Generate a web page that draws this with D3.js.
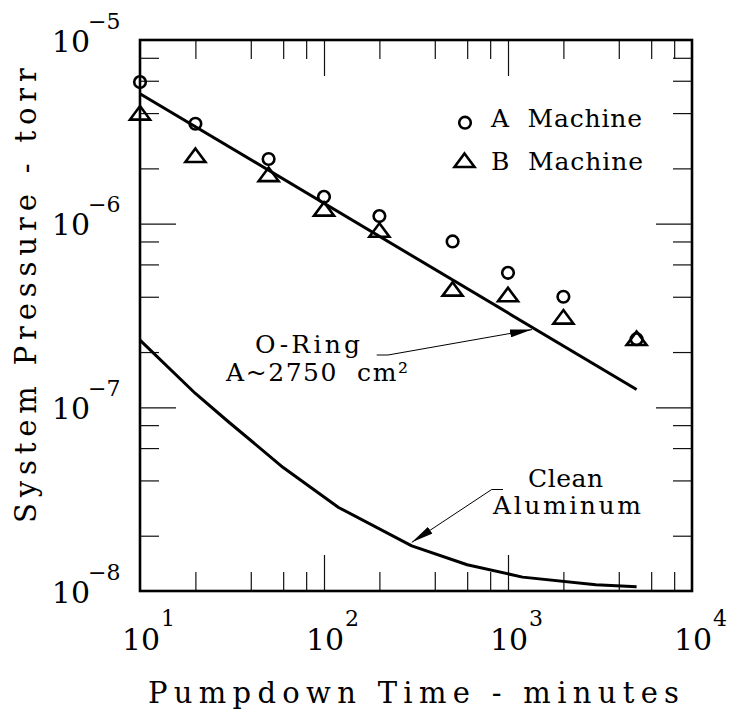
<!DOCTYPE html>
<html>
<head>
<meta charset="utf-8">
<script src="https://cdn.jsdelivr.net/npm/d3@7"></script>
<style>
  body { margin: 0; background: #fff; }
  text { font-family: "DejaVu Serif", serif; fill: #000; }
</style>
</head>
<body>
<div id="chart"></div>
<script>
// pumpdown times (minutes)
var timeA = [10, 20, 50, 100, 200, 500, 1000, 2000, 5000];
var pressureA = [5.9e-6, 3.5e-6, 2.25e-6, 1.4e-6, 1.1e-6, 8.0e-7, 5.4e-7, 4.0e-7, 2.35e-7];
var timeB = [10, 20, 50, 100, 200, 500, 1000, 2000, 5000];
var pressureB = [4.0e-6, 2.35e-6, 1.85e-6, 1.2e-6, 9.2e-7, 4.4e-7, 4.1e-7, 3.1e-7, 2.37e-7];

var timeOring = [10, 5000];
var pressureOring = [5.1e-6, 1.25e-7];
var timeClean = [10, 20, 30, 60, 120, 300, 600, 1200, 3000, 5000];
var pressureClean = [2.32e-7, 1.19e-7, 8.4e-8, 4.7e-8, 2.85e-8, 1.76e-8, 1.39e-8, 1.19e-8, 1.08e-8, 1.055e-8];

var xDecades = [10, 100, 1000, 10000];
var xExponents = ["1", "2", "3", "4"];
var yDecades = [1e-5, 1e-6, 1e-7, 1e-8];
var yExponents = ["\u22125", "\u22126", "\u22127", "\u22128"];
var minorSteps = [2, 4, 6, 8];

var margin = {top: 40, right: 39, bottom: 120, left: 140};
var width = 731 - margin.left - margin.right;
var height = 711 - margin.top - margin.bottom;

var root = d3.select("#chart")
    .append("svg")
    .attr("width", 731)
    .attr("height", 711);

var svg = root.append("g")
    .attr("transform", "translate(" + margin.left + "," + margin.top + ")");

var x = d3.scaleLog().domain([10, 1e4]).range([0, width]);
var y = d3.scaleLog().domain([1e-8, 1e-5]).range([height, 0]);

// minor ticks at 2,4,6,8 of each decade
var xMinor = [];
xDecades.slice(0, 3).forEach(function(d) { minorSteps.forEach(function(m) { xMinor.push(d * m); }); });
var yMinor = [];
yDecades.slice(1).forEach(function(d) { minorSteps.forEach(function(m) { yMinor.push(d * m); }); });
var xMajor = xDecades.slice(1, 3);
var yMajor = yDecades.slice(1, 3);

function clean(g) {
    g.select(".domain").remove();
    g.selectAll(".tick line").attr("stroke", "#111").attr("stroke-width", 1.2);
}

svg.append("g").attr("transform", "translate(0," + height + ")")
    .call(d3.axisBottom(x).tickValues(xMinor).tickSize(-19).tickFormat("")).call(clean);
svg.append("g").attr("transform", "translate(0," + height + ")")
    .call(d3.axisBottom(x).tickValues(xMajor).tickSize(-36).tickFormat("")).call(clean);
svg.append("g")
    .call(d3.axisTop(x).tickValues(xMinor).tickSize(-19).tickFormat("")).call(clean);
svg.append("g")
    .call(d3.axisTop(x).tickValues(xMajor).tickSize(-36).tickFormat("")).call(clean);
svg.append("g")
    .call(d3.axisLeft(y).tickValues(yMinor).tickSize(-19).tickFormat("")).call(clean);
svg.append("g")
    .call(d3.axisLeft(y).tickValues(yMajor).tickSize(-36).tickFormat("")).call(clean);
svg.append("g").attr("transform", "translate(" + width + ",0)")
    .call(d3.axisRight(y).tickValues(yMinor).tickSize(-19).tickFormat("")).call(clean);
svg.append("g").attr("transform", "translate(" + width + ",0)")
    .call(d3.axisRight(y).tickValues(yMajor).tickSize(-36).tickFormat("")).call(clean);

svg.append("rect")
    .attr("width", width)
    .attr("height", height)
    .attr("fill", "none")
    .attr("stroke", "#000")
    .attr("stroke-width", 2.6);

// tick labels 10^n
xDecades.forEach(function(d, i) {
    svg.append("text").attr("x", x(d) + 1).attr("y", height + 59)
        .attr("text-anchor", "middle").attr("font-size", 30).text("10");
    svg.append("text").attr("x", x(d) + 21).attr("y", height + 35)
        .attr("font-size", 22).text(xExponents[i]);
});
yDecades.forEach(function(d, i) {
    svg.append("text").attr("x", -50).attr("y", y(d) + 11.5)
        .attr("text-anchor", "end").attr("font-size", 30).text("10");
    svg.append("text").attr("x", -52).attr("y", y(d) - 11.5)
        .attr("font-size", 22).text(yExponents[i]);
});

// axis titles
root.append("text")
    .attr("x", 148).attr("y", 703)
    .attr("font-size", 29)
    .attr("textLength", 531).attr("lengthAdjust", "spacing")
    .text("Pumpdown Time - minutes");
root.append("text")
    .attr("transform", "translate(36,523) rotate(-90)")
    .attr("font-size", 29)
    .attr("textLength", 455).attr("lengthAdjust", "spacing")
    .text("System Pressure - torr");

// curves
var line = d3.line()
    .x(function(d) { return x(d[0]); })
    .y(function(d) { return y(d[1]); });

svg.append("path")
    .datum(d3.zip(timeOring, pressureOring))
    .attr("d", line)
    .attr("fill", "none").attr("stroke", "#000").attr("stroke-width", 3);
svg.append("path")
    .datum(d3.zip(timeClean, pressureClean))
    .attr("d", line)
    .attr("fill", "none").attr("stroke", "#000").attr("stroke-width", 3)
    .attr("stroke-linejoin", "round");

// points
var triangle = "M0,-7L10,6.5L-10,6.5Z";

svg.selectAll(".ptA")
    .data(d3.zip(timeA, pressureA))
    .enter()
    .append("circle")
    .attr("cx", function(d) { return x(d[0]); })
    .attr("cy", function(d) { return y(d[1]); })
    .attr("r", 5.8)
    .attr("fill", "none").attr("stroke", "#000").attr("stroke-width", 2.6);

svg.selectAll(".ptB")
    .data(d3.zip(timeB, pressureB))
    .enter()
    .append("path")
    .attr("d", triangle)
    .attr("transform", function(d) { return "translate(" + x(d[0]) + "," + y(d[1]) + ")"; })
    .attr("fill", "none").attr("stroke", "#000").attr("stroke-width", 2.6);

// legend
root.append("circle").attr("cx", 465).attr("cy", 122.7).attr("r", 5.8)
    .attr("fill", "none").attr("stroke", "#000").attr("stroke-width", 2.6);
root.append("path").attr("d", triangle).attr("transform", "translate(464.5,160.5)")
    .attr("fill", "none").attr("stroke", "#000").attr("stroke-width", 2.6);
root.append("text").attr("x", 491).attr("y", 127).attr("font-size", 25)
    .style("white-space", "pre")
    .attr("textLength", 151).attr("lengthAdjust", "spacing").text("A  Machine");
root.append("text").attr("x", 491).attr("y", 170).attr("font-size", 25)
    .style("white-space", "pre")
    .attr("textLength", 152).attr("lengthAdjust", "spacing").text("B  Machine");

// annotations with arrows
root.append("defs").append("marker")
    .attr("id", "head")
    .attr("viewBox", "0 0 22 8")
    .attr("refX", 22).attr("refY", 4)
    .attr("markerWidth", 22).attr("markerHeight", 8)
    .attr("markerUnits", "userSpaceOnUse")
    .attr("orient", "auto")
    .append("path").attr("d", "M0,0L22,4L0,8Z").attr("fill", "#000");

var oRingTip = [1350, 2.65e-7];
var cleanTip = [300, 1.84e-8];

root.append("path")
    .attr("d", "M376.7,355L388,355L" + (x(oRingTip[0]) + margin.left) + "," + (y(oRingTip[1]) + margin.top))
    .attr("fill", "none").attr("stroke", "#000").attr("stroke-width", 1)
    .attr("marker-end", "url(#head)");
root.append("path")
    .attr("d", "M503,489.5L491.7,489.5L" + (x(cleanTip[0]) + margin.left) + "," + (y(cleanTip[1]) + margin.top))
    .attr("fill", "none").attr("stroke", "#000").attr("stroke-width", 1)
    .attr("marker-end", "url(#head)");

root.append("text").attr("x", 255).attr("y", 353).attr("font-size", 25)
    .attr("textLength", 105).attr("lengthAdjust", "spacing").text("O-Ring");
root.append("text").attr("x", 226).attr("y", 381).attr("font-size", 25)
    .style("white-space", "pre")
    .attr("textLength", 182).attr("lengthAdjust", "spacing").text("A~2750  cm\u00b2");
root.append("text").attr("x", 528).attr("y", 487).attr("font-size", 25)
    .attr("textLength", 75).attr("lengthAdjust", "spacing").text("Clean");
root.append("text").attr("x", 493).attr("y", 514).attr("font-size", 25)
    .attr("textLength", 148).attr("lengthAdjust", "spacing").text("Aluminum");
</script>
</body>
</html>
